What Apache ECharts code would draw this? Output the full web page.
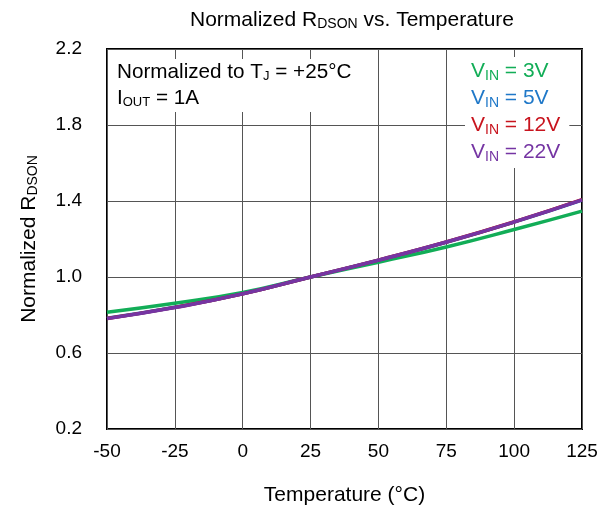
<!DOCTYPE html>
<html>
<head>
<meta charset="utf-8">
<script src="https://cdn.jsdelivr.net/npm/echarts@6/dist/echarts.min.js"></script>
<style>html,body{margin:0;padding:0;background:#fff}#c{width:613px;height:505px}</style>
</head>
<body>
<div id="c"></div>
<script>
var temps = [-50, -25, 0, 25, 50, 75, 100, 125];
var vin3  = [0.815, 0.862, 0.918, 1.0, 1.078, 1.158, 1.250, 1.347];
var vin5  = [0.783, 0.841, 0.912, 1.0, 1.088, 1.183, 1.289, 1.405];
var vin12 = [0.782, 0.840, 0.911, 1.0, 1.089, 1.184, 1.290, 1.407];
var vin22 = [0.781, 0.839, 0.911, 1.0, 1.089, 1.184, 1.290, 1.406];
var seriesNames = ['3V', '5V', '12V', '22V'];
var seriesColors = ['#12ad57', '#1f78c8', '#c8141e', '#7535a3'];
var xTicks = [-50, 125, 25];
var yTicks = [0.2, 2.2, 0.4];

function pairs(v){ return temps.map(function(t,i){ return [t, v[i]]; }); }
var data = [vin3, vin5, vin12, vin22];
var FONT = 'Liberation Sans, Arial, sans-serif';

var chart = echarts.init(document.getElementById('c'), null, {renderer:'canvas'});
chart.setOption({
  animation: false,
  backgroundColor: '#fff',
  title: [{
    text: '{a|Normalized R}{s|DSON}{a| vs. Temperature}',
    left: 185, top: 4,
    textStyle: {fontWeight: 'normal', rich: {a: {fontFamily: FONT, fontSize: 21, fontWeight: 'normal', color: '#000'}, s: {fontFamily: FONT, fontSize: 14, fontWeight: 'normal', color: '#000', padding: [8,0,0,0]}}}
  }, {
    text: '{a|Normalized to T}{s|J}{a| = +25°C}\n{a|I}{s|OUT}{a| = 1A}',
    left: 109, top: 57,
    padding: [2, 6, 3, 8],
    backgroundColor: '#fff',
    textStyle: {fontWeight: 'normal', rich: {a: {fontFamily: FONT, fontSize: 20.7, fontWeight: 'normal', color: '#000', lineHeight: 26}, s: {fontFamily: FONT, fontSize: 13, fontWeight: 'normal', color: '#000', padding: [9,0,0,0], lineHeight: 26}}}
  }],
  legend: {
    orient: 'vertical',
    left: 465, top: 57,
    backgroundColor: '#fff',
    padding: [2, 9, 4, 1],
    itemWidth: 0, itemHeight: 0, itemGap: 3,
    selectedMode: false,
    icon: 'rect',
    data: seriesNames.map(function(n, i){ return {name: n, textStyle: {color: seriesColors[i]}}; }),
    formatter: function(n){ return '{a|V}{s|IN}{a| = ' + n + '}'; },
    textStyle: {rich: {a: {fontFamily: FONT, fontSize: 21, lineHeight: 21}, s: {fontFamily: FONT, fontSize: 14, padding: [10,0,0,0], lineHeight: 21}}}
  },
  grid: {left: 107, right: 31, top: 49, bottom: 76, show: true, borderColor: '#000', borderWidth: 2, backgroundColor: 'transparent', containLabel: false, outerBoundsMode: 'none'},
  xAxis: {
    type: 'value', min: xTicks[0], max: xTicks[1], interval: xTicks[2],
    name: 'Temperature (°C)', nameLocation: 'middle', nameGap: 56,
    nameTextStyle: {fontFamily: FONT, fontSize: 21, color: '#000'},
    axisLine: {show: false}, axisTick: {show: false},
    axisLabel: {fontFamily: FONT, fontSize: 19, color: '#000', margin: 13},
    splitLine: {show: true, lineStyle: {color: '#555', width: 1}}
  },
  yAxis: {
    type: 'value', min: yTicks[0], max: yTicks[1], interval: yTicks[2],
    name: '{a|Normalized R}{s|DSON}', nameLocation: 'middle', nameGap: 67, nameRotate: 90,
    nameTextStyle: {rich: {a: {fontFamily: FONT, fontSize: 21, color: '#000'}, s: {fontFamily: FONT, fontSize: 14, color: '#000', padding: [8,0,0,0]}}},
    axisLine: {show: false}, axisTick: {show: false},
    axisLabel: {fontFamily: FONT, fontSize: 19, color: '#000', margin: 25, formatter: function(v){ return v.toFixed(1); }},
    splitLine: {show: true, lineStyle: {color: '#555', width: 1}}
  },
  series: seriesNames.map(function(n, i){
    return {name: n, type: 'line', smooth: true, showSymbol: false, symbol: 'none', z: 1,
      data: pairs(data[i]), lineStyle: {color: seriesColors[i], width: 3.5}, itemStyle: {color: seriesColors[i]}};
  })
});
</script>
</body>
</html>
